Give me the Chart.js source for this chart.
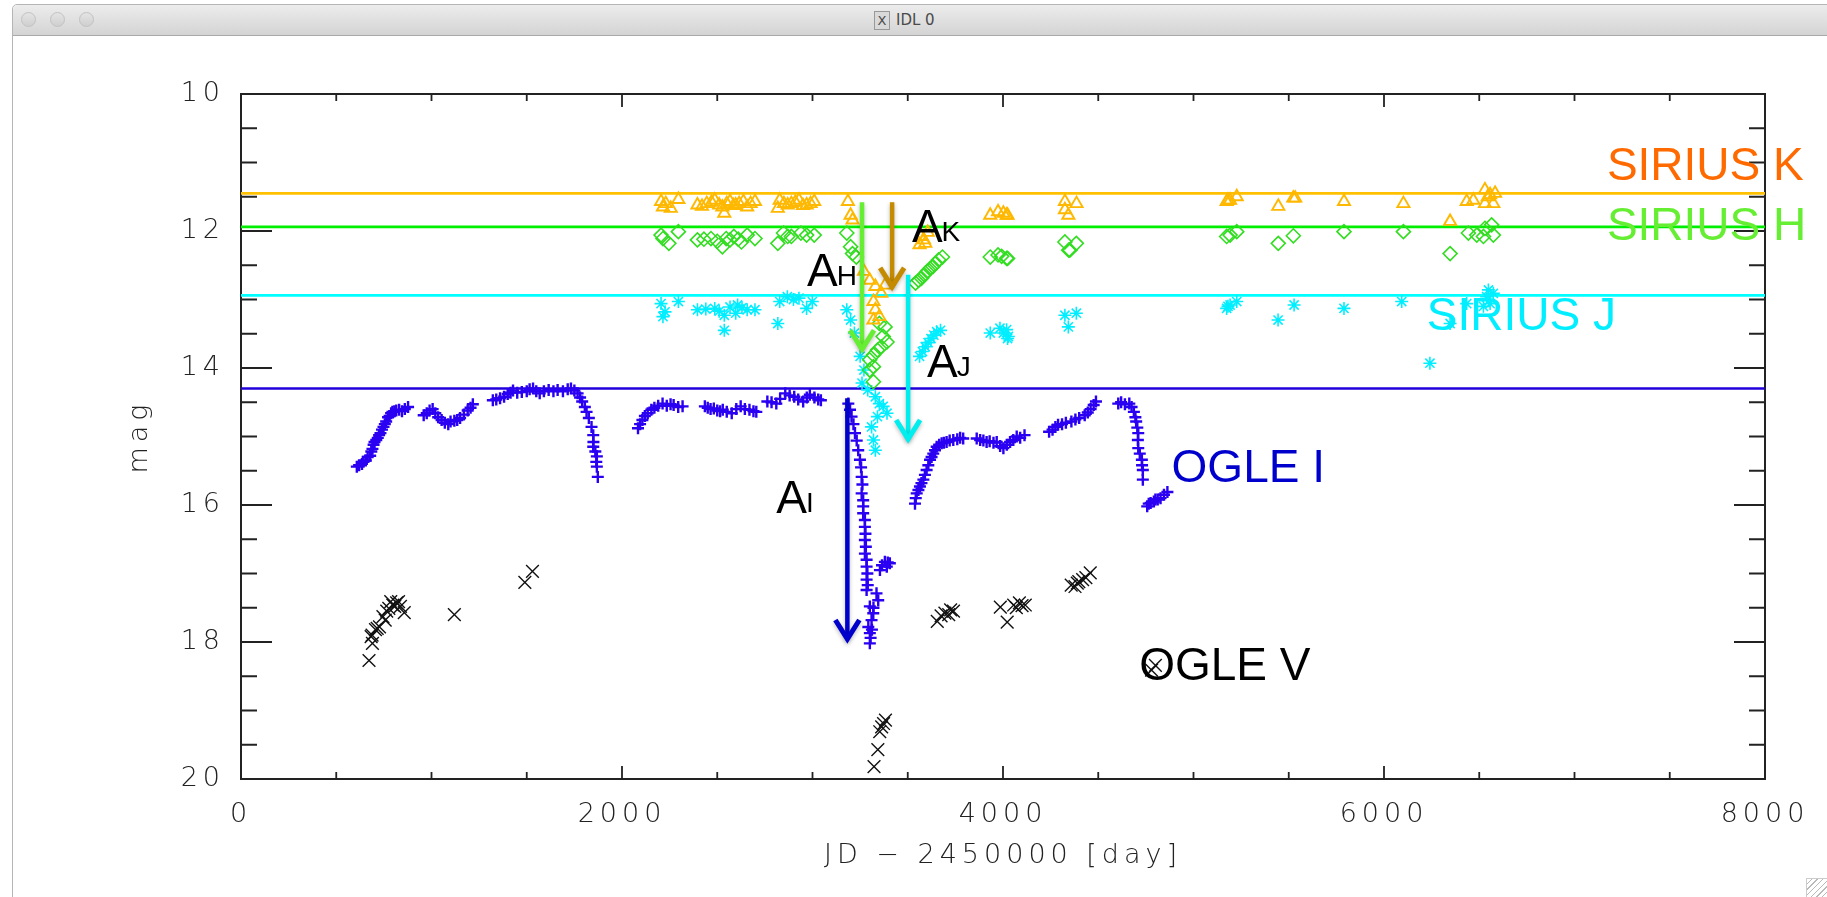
<!DOCTYPE html>
<html>
<head>
<meta charset="utf-8">
<title>IDL 0</title>
<script src="https://cdn.jsdelivr.net/npm/chart.js@4.4.1/dist/chart.umd.min.js"></script>
<style>
  html, body { margin: 0; padding: 0; background: #fff; overflow: hidden; }
  #win {
    position: absolute; left: 12px; top: 4px; width: 1830px; height: 900px;
    border: 1px solid #b5b5b5; border-radius: 5px 5px 0 0; background: #fff;
  }
  #bar {
    height: 30px; border-bottom: 1px solid #a9a9a9; border-radius: 5px 5px 0 0;
    background: linear-gradient(#ececec, #d4d4d4);
    position: relative; font: 15px "DejaVu Sans", sans-serif; color: #4a4a4a;
  }
  .dot {
    position: absolute; top: 7px; width: 13px; height: 13px; border-radius: 50%;
    background: linear-gradient(#e4e4e4, #cfcfcf); border: 1px solid #c2c2c2;
  }
  #ttl { position: absolute; left: 861px; top: 6px; }
  #ttl .ic {
    display: inline-block; width: 14px; height: 17px; border: 1px solid #999;
    background: #d9d9d9; font-size: 13px; line-height: 17px; text-align: center;
    vertical-align: middle; margin-right: 6px;
  }
  #grip {
    position: absolute; right: 0; bottom: 0; width: 20px; height: 18px;
    border-left: 1px solid #ccc; border-top: 1px solid #ccc; background:
    repeating-linear-gradient(135deg, #fff 0 3px, #b9b9b9 3px 4px);
  }
  #wrap { position: absolute; left: 0; top: 0; width: 1827px; height: 897px; }
</style>
</head>
<body>
<div id="win">
  <div id="bar">
    <div class="dot" style="left:8px"></div>
    <div class="dot" style="left:37px"></div>
    <div class="dot" style="left:66px"></div>
    <div id="ttl"><span class="ic">X</span>IDL 0</div>
  </div>
</div>
<div id="grip"></div>
<div id="wrap"><canvas id="lc"></canvas></div>
<script>
// light curves: [JD - 2450000, magnitude]
const ogleI = [
  [608,15.44],[620,15.42],[635,15.40],[643,15.37],[655,15.35],[665,15.30],[678,15.28],[684,15.22],
  [690,15.18],[696,15.12],[701,15.08],[710,15.05],[718,15.02],[725,14.98],[732,14.95],[740,14.90],
  [748,14.86],[755,14.82],[762,14.78],[772,14.72],[780,14.70],[788,14.66],[795,14.64],[805,14.63],
  [815,14.62],[830,14.61],[845,14.63],[860,14.60],[877,14.57],
  [959,14.69],[975,14.66],[990,14.62],[1006,14.60],[1020,14.66],[1035,14.72],[1053,14.76],[1070,14.80],
  [1088,14.82],[1100,14.78],[1120,14.77],[1135,14.76],[1150,14.73],[1170,14.68],[1190,14.62],[1205,14.58],
  [1217,14.53],
  [1322,14.47],[1340,14.46],[1360,14.44],[1381,14.42],[1400,14.38],[1415,14.36],[1428,14.33],[1450,14.36],
  [1474,14.35],[1500,14.34],[1515,14.31],[1533,14.30],[1550,14.34],[1568,14.37],[1590,14.34],[1615,14.32],
  [1640,14.34],[1662,14.32],[1690,14.34],[1715,14.31],[1732,14.30],[1750,14.33],[1767,14.37],[1780,14.43],
  [1791,14.49],[1805,14.57],[1814,14.64],[1826,14.73],[1840,14.86],[1849,14.98],[1850,15.08],[1849,15.15],
  [1860,15.22],[1868,15.29],[1865,15.37],[1868,15.44],[1873,15.59],
  [2084,14.88],[2095,14.82],[2107,14.76],[2120,14.70],[2135,14.66],[2154,14.61],[2170,14.58],[2190,14.55],
  [2213,14.52],[2235,14.55],[2255,14.53],[2271,14.54],[2295,14.57],[2318,14.56],
  [2435,14.56],[2450,14.58],[2465,14.60],[2482,14.59],[2500,14.62],[2515,14.63],[2529,14.61],[2550,14.64],
  [2576,14.66],[2600,14.60],[2623,14.56],[2645,14.60],[2669,14.61],[2690,14.63],[2705,14.64],
  [2763,14.49],[2785,14.50],[2810,14.52],[2830,14.45],[2857,14.37],[2880,14.40],[2904,14.42],[2925,14.46],
  [2951,14.49],[2970,14.43],[2986,14.39],[3010,14.43],[3030,14.46],[3044,14.47],
  [3188,14.52],[3197,14.61],[3205,14.71],[3215,14.82],[3223,14.95],[3232,15.06],[3240,15.20],[3249,15.34],
  [3255,15.45],[3258,15.59],[3262,15.70],[3258,15.83],[3266,15.93],[3266,16.02],[3266,16.12],[3275,16.22],
  [3275,16.32],[3278,16.42],[3275,16.51],[3280,16.61],[3275,16.71],[3284,16.80],[3284,16.90],[3288,17.00],
  [3284,17.09],[3290,17.17],[3284,17.24],[3336,17.29],[3345,17.39],[3301,17.48],[3319,17.58],[3310,17.68],
  [3293,17.78],[3301,17.87],[3305,17.94],[3301,18.02],[3312,17.82],[3320,17.50],
  [3354,16.95],[3365,16.88],[3380,16.83],[3395,16.84],[3406,16.85],[3390,16.90],
  [3538,15.98],[3542,15.90],[3547,15.83],[3556,15.78],[3564,15.73],[3572,15.68],[3582,15.63],[3590,15.56],
  [3599,15.49],[3608,15.42],[3617,15.34],[3625,15.30],[3634,15.25],[3643,15.20],[3652,15.15],[3665,15.12],
  [3678,15.10],[3690,15.09],[3704,15.08],[3720,15.06],[3739,15.05],[3760,15.04],[3775,15.02],[3791,15.03],
  [3862,15.03],[3880,15.05],[3897,15.06],[3914,15.08],[3930,15.07],[3950,15.09],[3967,15.08],[3985,15.14],
  [4002,15.17],[4020,15.12],[4037,15.08],[4054,15.05],[4072,15.00],[4090,15.02],[4113,14.98],
  [4242,14.93],[4260,14.90],[4275,14.86],[4289,14.83],[4310,14.82],[4330,14.80],[4359,14.78],[4380,14.75],
  [4400,14.73],[4429,14.69],[4445,14.65],[4460,14.60],[4476,14.54],[4488,14.49],
  [4605,14.52],[4620,14.50],[4640,14.53],[4663,14.52],[4675,14.57],[4687,14.64],[4695,14.72],[4699,14.78],
  [4705,14.87],[4710,14.95],[4708,15.05],[4710,15.17],[4718,15.25],[4729,15.34],[4730,15.42],[4734,15.49],
  [4734,15.63],
  [4757,16.02],[4765,15.98],[4775,15.97],[4792,15.95],[4800,15.92],[4812,15.92],[4827,15.90],[4845,15.85],
  [4863,15.81]
];

const ogleV = [
  [672,18.27],[683,17.92],[688,17.90],[690,18.02],[706,17.82],[715,17.80],[727,17.78],[745,17.63],
  [757,17.68],[765,17.55],[776,17.51],[786,17.41],[797,17.46],[807,17.48],[817,17.43],[827,17.41],
  [837,17.48],[857,17.57],[1120,17.60],[1490,17.13],[1530,16.97],
  [3323,19.82],[3343,19.57],[3353,19.31],[3363,19.24],[3373,19.19],[3383,19.14],
  [3655,17.70],[3675,17.62],[3695,17.58],[3715,17.60],[3725,17.53],[3740,17.55],
  [3986,17.49],[4022,17.71],[4056,17.46],[4070,17.50],[4086,17.43],[4100,17.47],[4117,17.46],
  [4358,17.17],[4378,17.19],[4390,17.14],[4398,17.12],[4418,17.09],[4435,17.06],[4458,16.99],
  [4780,18.41],[4800,18.34]
];

const siriusK = [
  [2205,11.57],[2215,11.65],[2230,11.60],[2256,11.67],[2296,11.54],[2396,11.62],[2420,11.64],[2445,11.60],
  [2470,11.58],[2487,11.55],[2510,11.62],[2527,11.65],[2537,11.74],[2550,11.60],[2567,11.57],[2585,11.63],
  [2597,11.62],[2615,11.60],[2637,11.57],[2657,11.65],[2675,11.60],[2698,11.57],[2818,11.67],[2828,11.55],
  [2850,11.60],[2870,11.62],[2889,11.60],[2910,11.58],[2929,11.55],[2950,11.63],[2969,11.62],[2990,11.60],
  [3009,11.57],[3186,11.57],[3200,11.77],[3210,11.84],[3270,12.59],[3300,12.72],[3320,13.03],[3330,12.81],
  [3330,13.15],[3320,13.30],[3351,13.25],[3361,12.91],[3381,12.79],[3562,12.20],[3572,12.08],[3585,12.13],
  [3592,12.18],[3605,12.02],[3933,11.77],[3974,11.72],[4002,11.74],[4019,11.77],[4024,11.77],[4325,11.57],
  [4325,11.69],[4343,11.77],[4386,11.60],[5174,11.57],[5181,11.55],[5192,11.55],[5227,11.50],[5445,11.64],
  [5524,11.52],[5534,11.52],[5790,11.57],[6102,11.60],[6347,11.86],[6434,11.57],[6469,11.55],[6530,11.40],
  [6530,11.60],[6545,11.50],[6557,11.47],[6574,11.60],[6583,11.45]
];

const siriusH = [
  [2205,12.06],[2215,12.11],[2246,12.18],[2296,12.01],[2396,12.13],[2430,12.12],[2467,12.11],[2500,12.15],
  [2527,12.23],[2547,12.11],[2567,12.13],[2587,12.08],[2610,12.12],[2627,12.16],[2657,12.06],[2698,12.11],
  [2818,12.18],[2848,12.03],[2870,12.08],[2889,12.08],[2939,12.03],[2969,12.06],[3009,12.06],[3180,12.03],
  [3200,12.23],[3210,12.33],[3230,12.38],[3351,13.35],[3381,13.40],[3371,13.54],[3391,13.62],[3361,13.69],
  [3341,13.74],[3320,13.81],[3300,13.88],[3320,13.98],[3300,14.03],[3320,14.20],[3541,12.76],[3557,12.72],
  [3572,12.69],[3587,12.64],[3602,12.59],[3617,12.55],[3632,12.52],[3647,12.47],[3662,12.42],[3682,12.38],
  [3933,12.38],[3974,12.35],[3993,12.37],[4019,12.40],[4024,12.40],[4325,12.16],[4345,12.28],[4351,12.28],
  [4385,12.18],[5174,12.08],[5192,12.06],[5227,12.01],[5445,12.18],[5524,12.07],[5790,12.01],[6102,12.01],
  [6347,12.33],[6443,12.03],[6487,12.06],[6522,12.08],[6530,11.96],[6565,11.91],[6574,12.06]
];

const siriusJ = [
  [2205,13.06],[2215,13.25],[2226,13.18],[2296,13.03],[2396,13.15],[2440,13.14],[2487,13.13],[2510,13.17],
  [2537,13.23],[2537,13.45],[2567,13.11],[2597,13.20],[2607,13.08],[2630,13.12],[2657,13.15],[2698,13.15],
  [2818,13.35],[2828,13.03],[2868,12.96],[2900,13.00],[2929,12.98],[2969,13.13],[2999,13.03],[3180,13.15],
  [3200,13.30],[3220,13.49],[3250,13.83],[3270,14.03],[3260,14.22],[3290,14.32],[3330,14.42],[3351,14.52],
  [3371,14.56],[3391,14.66],[3341,14.71],[3310,14.86],[3320,15.05],[3330,15.20],[3562,13.83],[3577,13.76],
  [3592,13.69],[3607,13.63],[3622,13.57],[3637,13.52],[3652,13.47],[3672,13.45],[3933,13.49],[3984,13.42],
  [4002,13.49],[4019,13.44],[4024,13.57],[4028,13.54],[4325,13.23],[4343,13.40],[4385,13.20],[5174,13.13],
  [5181,13.10],[5192,13.08],[5227,13.03],[5444,13.30],[5528,13.08],[5790,13.13],[6093,13.03],[6241,13.93],
  [6347,13.35],[6434,13.06],[6522,13.10],[6539,12.96],[6548,12.86],[6557,13.06],[6574,12.91]
];

// reference (baseline) magnitudes
const levelNames = ['K', 'H', 'J', 'I'];
const levelMags = [11.45, 11.94, 12.94, 14.30];

// extinction arrows A_K, A_H, A_J, A_I
const arrowBands = ['K', 'H', 'J', 'I'];
const arrowJD = [3418, 3260, 3502, 3183];
const arrowFrom = [11.58, 11.58, 12.64, 14.44];
const arrowTo = [12.86, 13.77, 15.08, 18.00];

const xTicks = [0, 2000, 4000, 6000, 8000];
const yTicks = [10, 12, 14, 16, 18, 20];

const lineColors = { K: '#ffc000', H: '#00ee00', J: '#00ffff', I: '#2200dd' };
const arrowColors = { K: '#c48a00', H: '#66ee33', J: '#00eeee', I: '#0000cc' };

const labels = [
  { text: 'SIRIUS K', x: 7170, y: 11.26, color: '#ff6a00' },
  { text: 'SIRIUS H', x: 7170, y: 12.13, color: '#66ee33' },
  { text: 'SIRIUS J', x: 6225, y: 13.45, color: '#00eeff' },
  { text: 'OGLE I',   x: 4885, y: 15.66, color: '#0000cc' },
  { text: 'OGLE V',   x: 4715, y: 18.55, color: '#000000' }
];
const subLabels = [
  { sub: 'K', x: 3522, y: 12.16 },
  { sub: 'H', x: 2971, y: 12.80 },
  { sub: 'J', x: 3601, y: 14.13 },
  { sub: 'I', x: 2810, y: 16.12 }
];

const pts = arr => arr.map(p => ({ x: p[0], y: p[1] }));
const hershey = { family: "'DejaVu Sans', sans-serif", size: 27, weight: 300 };

const frame = {
  id: 'frame',
  beforeDraw(chart) {
    chart.ctx.letterSpacing = '5px';
  },
  beforeDatasetsDraw(chart) {
    const { ctx, chartArea: a, scales: { x, y } } = chart;
    ctx.letterSpacing = '0px';
    ctx.save();
    ctx.strokeStyle = '#222';
    ctx.lineWidth = 2;
    ctx.strokeRect(a.left, a.top, a.right - a.left, a.bottom - a.top);
    ctx.lineWidth = 1.8;
    ctx.beginPath();
    for (let v = 0; v <= 8000; v += 500) {
      const px = x.getPixelForValue(v);
      const len = xTicks.includes(v) ? 13 : 7;
      ctx.moveTo(px, a.bottom); ctx.lineTo(px, a.bottom - len);
      ctx.moveTo(px, a.top); ctx.lineTo(px, a.top + len);
    }
    for (let m = 10; m <= 20; m += 0.5) {
      const py = y.getPixelForValue(m);
      const len = yTicks.includes(m) ? 31 : 16;
      ctx.moveTo(a.left, py); ctx.lineTo(a.left + len, py);
      ctx.moveTo(a.right, py); ctx.lineTo(a.right - len, py);
    }
    ctx.stroke();
    ctx.restore();
  },
  afterDatasetsDraw(chart) {
    const { ctx, scales: { x, y } } = chart;
    ctx.save();
    // arrows
    arrowBands.forEach((b, i) => {
      const px = x.getPixelForValue(arrowJD[i]);
      const y0 = y.getPixelForValue(arrowFrom[i]);
      const y1 = y.getPixelForValue(arrowTo[i]);
      ctx.save();
      ctx.strokeStyle = arrowColors[b];
      ctx.shadowColor = 'rgba(0,0,0,0.25)';
      ctx.shadowBlur = 4;
      ctx.shadowOffsetY = 2;
      ctx.lineWidth = 4.5;
      ctx.beginPath();
      ctx.moveTo(px, y0); ctx.lineTo(px, y1 - 3);
      ctx.stroke();
      ctx.lineWidth = 5;
      ctx.lineJoin = 'miter';
      ctx.beginPath();
      ctx.moveTo(px - 12, y1 - 22); ctx.lineTo(px, y1 - 3); ctx.lineTo(px + 12, y1 - 22);
      ctx.stroke();
      ctx.restore();
    });
    // band labels
    ctx.textBaseline = 'alphabetic';
    ctx.textAlign = 'left';
    ctx.font = "46px 'Liberation Sans', Arial, sans-serif";
    labels.forEach(l => {
      ctx.fillStyle = l.color;
      ctx.fillText(l.text, x.getPixelForValue(l.x), y.getPixelForValue(l.y));
    });
    ctx.fillStyle = '#000';
    subLabels.forEach(l => {
      const px = x.getPixelForValue(l.x);
      const py = y.getPixelForValue(l.y);
      ctx.font = "46px 'Liberation Sans', Arial, sans-serif";
      ctx.fillText('A', px, py);
      const w = ctx.measureText('A').width;
      ctx.font = "28px 'Liberation Sans', Arial, sans-serif";
      ctx.fillText(l.sub, px + w - 1, py - 1);
    });
    ctx.restore();
  }
};

const levelSets = levelNames.map((b, i) => ({
  type: 'line',
  data: [{ x: 0, y: levelMags[i] }, { x: 8000, y: levelMags[i] }],
  borderColor: lineColors[b],
  borderWidth: 2.6,
  pointRadius: 0,
  order: 20
}));

new Chart(document.getElementById('lc'), {
  type: 'scatter',
  data: {
    datasets: [
      ...levelSets,
      { label: 'OGLE V', data: pts(ogleV), pointStyle: 'crossRot', radius: 9,
        borderColor: '#111', borderWidth: 1.4, order: 6 },
      { label: 'OGLE I', data: pts(ogleI), pointStyle: 'cross', radius: 6,
        borderColor: '#2b00f2', borderWidth: 2.4, order: 5 },
      { label: 'SIRIUS J', data: pts(siriusJ), pointStyle: 'star', radius: 6.5,
        borderColor: '#00eeff', borderWidth: 1.6, order: 4 },
      { label: 'SIRIUS H', data: pts(siriusH), pointStyle: 'rectRot', radius: 7,
        borderColor: '#33dd22', backgroundColor: 'rgba(0,0,0,0)', borderWidth: 1.6, order: 3 },
      { label: 'SIRIUS K', data: pts(siriusK), pointStyle: 'triangle', radius: 7,
        borderColor: '#ffb800', backgroundColor: 'rgba(0,0,0,0)', borderWidth: 1.9, order: 2 }
    ]
  },
  options: {
    responsive: true,
    maintainAspectRatio: false,
    animation: false,
    events: [],
    layout: { padding: { left: 0, top: 94, right: 62, bottom: 0 } },
    plugins: { legend: { display: false }, tooltip: { enabled: false } },
    scales: {
      x: {
        type: 'linear', min: 0, max: 8000,
        afterFit(s) { s.height = 118; },
        afterBuildTicks(s) { s.ticks = xTicks.map(v => ({ value: v })); },
        grid: { display: false, drawTicks: false },
        border: { display: false },
        ticks: { color: '#222', font: hershey, padding: 20, maxRotation: 0,
                 callback: v => String(v) },
        title: { display: true, text: 'JD − 2450000 [day]', color: '#222', font: hershey,
                 padding: { top: 0, bottom: 25 } }
      },
      y: {
        type: 'linear', min: 10, max: 20, reverse: true,
        afterFit(s) { s.width = 241; },
        afterBuildTicks(s) { s.ticks = yTicks.map(v => ({ value: v })); },
        grid: { display: false, drawTicks: false },
        border: { display: false },
        ticks: { color: '#222', font: hershey, padding: 16, callback: v => String(v) },
        title: { display: true, text: 'mag', color: '#222', font: hershey,
                 padding: { top: 124, bottom: 0 } }
      }
    }
  },
  plugins: [frame]
});
</script>
</body>
</html>
